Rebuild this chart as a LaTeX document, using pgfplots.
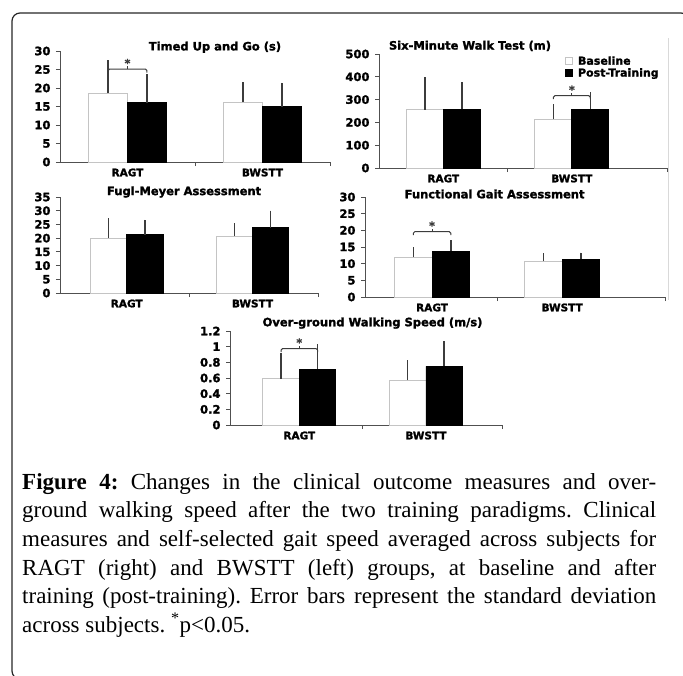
\documentclass[border=0pt]{standalone}
\usepackage{fontspec}
\setmainfont{Liberation Serif}
\newfontfamily\chartfont{DejaVu Sans}[BoldFeatures={FakeBold=1.6}]
\usepackage{pgfplots}
\pgfplotsset{compat=1.18}

\definecolor{axisgray}{HTML}{505050}
\definecolor{errgray}{HTML}{3C3C3C}
\definecolor{edgegray}{HTML}{C4C4C4}

\newcommand{\chartbf}[1]{\chartfont\bfseries\fontsize{#1}{#1}\selectfont}

% significance bracket: x1, x2, xm, y
\newcommand{\sig}[4]{%
  \draw[errgray, line width=1pt, rounded corners=1.5pt]
    ([yshift=-3.5pt]axis cs:#1,#4) -- (axis cs:#1,#4) -- (axis cs:#2,#4) -- ([yshift=-3.5pt]axis cs:#2,#4);
  \draw[errgray, line width=1pt] (axis cs:#3,#4) -- ++(0pt,3pt)
    node[anchor=south, inner sep=0pt, yshift=-1.5pt, font=\chartbf{11}] {*};
}

\pgfplotsset{
  panel/.style={
    anchor=south west, scale only axis, clip=false,
    axis lines=left, axis line style={-, draw=axisgray, line width=0.9pt},
    ymin=0,
    xticklabels={,,},
    extra x ticks={0,1}, extra x tick labels={RAGT,BWSTT},
    extra x tick style={major tick length=0pt},
    tick align=outside, major tick length=4pt,
    tick style={draw=axisgray, line width=0.9pt},
    /pgf/number format/assume math mode=true,
    yticklabel style={font=\chartbf{11.5}, xshift=-2pt},
    xticklabel style={font=\chartbf{10.5}, yshift=-3pt},
    title style={font=\chartbf{11.5}, anchor=center},
  },
  basebar/.style={ybar, bar shift=0pt, bar width=0.288,
    fill=white, draw=edgegray, line width=0.8pt,
    legend image code/.code={\draw[fill=white, draw=edgegray, line width=0.8pt] (0pt,-3.5pt) rectangle (7pt,3.5pt); \path (11pt,0pt);},
    error bars/.cd, y dir=plus, y explicit, error mark=none,
    error bar style={draw=errgray, line width=1.5pt}},
  postbar/.style={ybar, bar shift=0pt, bar width=0.288,
    fill=black, draw=black, line width=0.8pt,
    legend image code/.code={\fill[black] (0pt,-3.5pt) rectangle (7pt,3.5pt); \path (11pt,0pt);},
    error bars/.cd, y dir=plus, y explicit, error mark=none,
    error bar style={draw=errgray, line width=1.5pt}},
}

\begin{document}
\begin{tikzpicture}
\path[use as bounding box] (0pt,0pt) rectangle (683pt,-675pt);

% frame of the figure box
\draw[black!85, line width=1.2pt, rounded corners=8pt] (12pt,-13pt) rectangle (689pt,-679pt);
\draw[black!15, line width=0.8pt] (668pt,-38pt) -- (668pt,-300pt);

% Timed Up and Go
\begin{axis}[panel, at={(60pt,-162pt)}, width=270pt, height=111pt,
  xmin=-0.5, xmax=1.5, xtick={0.5,1.5}, ymax=30, ytick={0,5,...,30},
  title={Timed Up and Go (s)}, title style={at={(0.574,0.98)}}]
\addplot[basebar] coordinates {(-0.144,18.6) +- (0,9.0) (0.856,16.2) +- (0,5.3)};
\addplot[postbar] coordinates {(0.144,16.0) +- (0,7.8) (1.144,14.9) +- (0,6.5)};
\sig{-0.144}{0.144}{0}{25.1}
\end{axis}

% Six-Minute Walk Test
\begin{axis}[panel, at={(379pt,-168pt)}, width=288pt, height=114pt,
  xmin=-0.5, xmax=1.74, xtick={0.5,1.74}, ymax=500, ytick={0,100,...,500},
  title={Six-Minute Walk Test (m)}, title style={at={(0.316,1.018)}},
  legend style={at={(0.646,0.99)}, anchor=north west, draw=none, fill=none,
    inner sep=0pt, font=\chartbf{11}, nodes={inner sep=1pt}, cells={anchor=west}}]
\addplot[basebar] coordinates {(-0.144,255) +- (0,145) (0.856,213) +- (0,67)};
\addlegendentry{Baseline}
\addplot[postbar] coordinates {(0.144,258) +- (0,119) (1.144,258) +- (0,75)};
\addlegendentry{Post-Training}
\sig{0.856}{1.144}{1}{317}
\end{axis}

% Fugl-Meyer Assessment
\begin{axis}[panel, at={(60pt,-293pt)}, width=258pt, height=96pt,
  xmin=-0.53, xmax=1.52, xtick={0.5,1.52}, ymax=35, ytick={0,5,...,35},
  title={Fugl-Meyer Assessment}, title style={at={(0.481,0.99)}}]
\addplot[basebar] coordinates {(-0.144,20.0) +- (0,7.4) (0.856,20.8) +- (0,4.8)};
\addplot[postbar] coordinates {(0.144,21.2) +- (0,5.5) (1.144,23.8) +- (0,6.2)};
\end{axis}

% Functional Gait Assessment
\begin{axis}[panel, at={(365pt,-297pt)}, width=300pt, height=100pt,
  xmin=-0.515, xmax=1.79, xtick={0.5,1.79}, ymax=30, ytick={0,5,...,30},
  title={Functional Gait Assessment}, title style={at={(0.432,0.97)}}]
\addplot[basebar] coordinates {(-0.144,12.0) +- (0,3.1) (0.856,10.7) +- (0,2.6)};
\addplot[postbar] coordinates {(0.144,13.7) +- (0,3.4) (1.144,11.4) +- (0,1.9)};
\sig{-0.144}{0.144}{0}{19.6}
\end{axis}

% Over-ground Walking Speed
\begin{axis}[panel, at={(230pt,-425pt)}, width=272pt, height=94pt,
  xmin=-0.547, xmax=1.6, xtick={0.5,1.6}, ymax=1.2, ytick={0,0.2,0.4,0.6,0.8,1,1.2},
  title={Over-ground Walking Speed (m/s)}, title style={at={(0.524,1.02)}}]
\addplot[basebar] coordinates {(-0.144,0.59) +- (0,0.335) (0.856,0.57) +- (0,0.26)};
\addplot[postbar] coordinates {(0.144,0.71) +- (0,0.32) (1.144,0.75) +- (0,0.32)};
\sig{-0.144}{0.144}{0}{0.976}
\end{axis}

% caption
\node[anchor=north west, inner sep=0pt, text width=634pt, align=justify,
  font=\fontsize{23}{28.7}\selectfont\frenchspacing] at (22pt,-473pt)
{\textbf{Figure 4:} Changes in the clinical outcome measures and over-\linebreak
ground walking speed after the two training paradigms. Clinical\linebreak
measures and self-selected gait speed averaged across subjects for\linebreak
RAGT (right) and BWSTT (left) groups, at baseline and after\linebreak
training (post-training). Error bars represent the standard deviation\linebreak
across subjects. \textsuperscript{*}p<0.05.};
\end{tikzpicture}
\end{document}
